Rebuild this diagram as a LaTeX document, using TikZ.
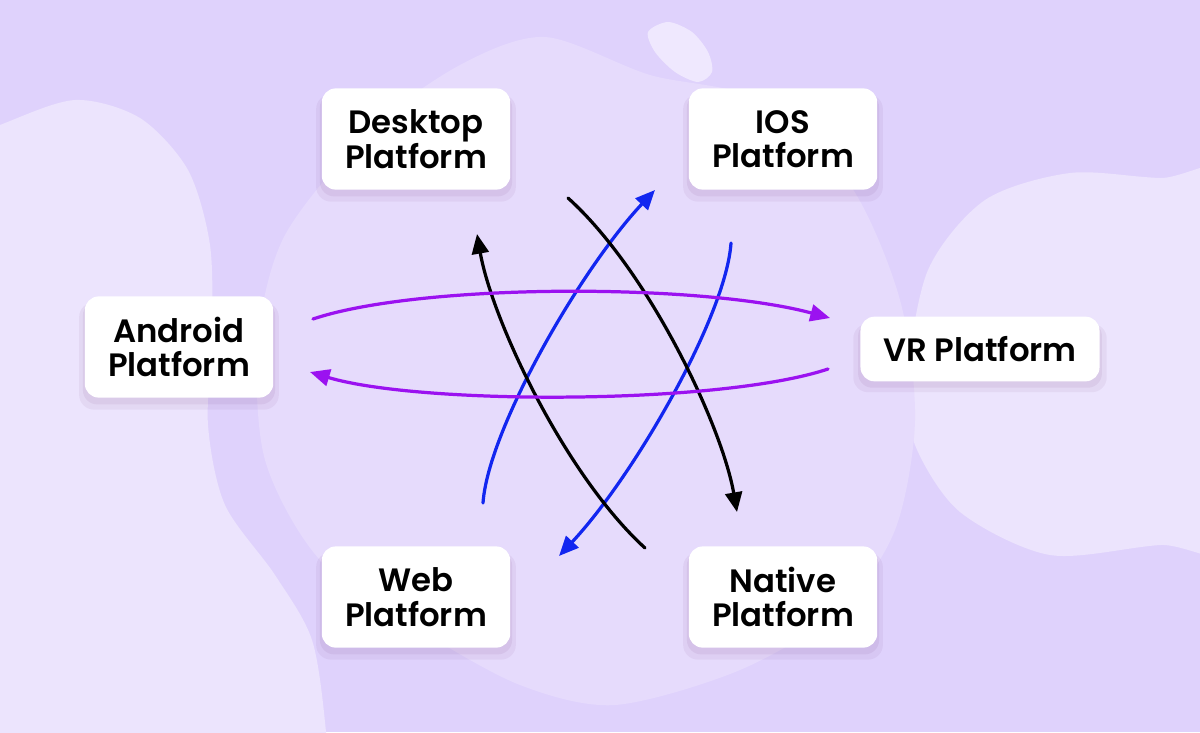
\documentclass[tikz,border=0pt]{standalone}
\usepackage{fontspec}
\setmainfont{Poppins}[UprightFont={* Medium},BoldFont={* SemiBold}]
\usetikzlibrary{arrows.meta,shadows}
\definecolor{bgcol}{RGB}{223,210,252}
\definecolor{blobside}{RGB}{236,228,253}
\definecolor{blobmid}{RGB}{230,219,252}
\definecolor{blobdot}{RGB}{239,232,254}
\definecolor{arrpurple}{RGB}{155,18,240}
\definecolor{arrblue}{RGB}{18,38,240}

\begin{document}
\begin{tikzpicture}[x=0.025cm,y=-0.025cm,
  platbox/.style={fill=white,rounded corners=10pt,align=center,inner sep=2pt,
    font=\fontsize{23}{24.5}\selectfont\bfseries,minimum width=134pt,minimum height=72pt,
    general shadow={shadow xshift=0pt,shadow yshift=-6pt,shadow scale=1.06,opacity=0.05,fill=violet!60!black},
    general shadow={shadow xshift=0pt,shadow yshift=-4pt,shadow scale=1.02,opacity=0.06,fill=violet!60!black}},
  swing/.style={line width=2.3pt,line cap=round,-{Triangle[length=14pt,width=12pt]}}]
  \fill[bgcol] (0,0) rectangle (1200,732);
  \useasboundingbox (0,0) rectangle (1200,732);
  \fill[blobside] plot[smooth cycle] coordinates {(-80,160) (0,125) (75,100) (140,118) (188,170) (210,245) (212,335) (208,425) (225,505) (275,575) (312,640) (326,732) (330,820) (-80,820)};
  \fill[blobside] plot[smooth cycle] coordinates {(907,380) (928,270) (985,200) (1070,173) (1160,178) (1280,180) (1280,540) (1160,545) (1050,555) (960,512) (915,445)};
  \fill[blobmid] plot[smooth cycle] coordinates {(545,37) (650,75) (760,100) (850,185) (900,300) (915,420) (895,530) (840,610) (740,670) (615,705) (520,685) (420,630) (320,560) (265,460) (258,340) (285,235) (370,130) (460,65)};
  \fill[blobdot] plot[smooth cycle] coordinates {(648,32) (668,22) (692,32) (708,52) (712,72) (698,82) (675,72) (655,52)};

  \node[platbox] (desk) at (416,139) {Desktop\\Platform};
  \node[platbox] (ios) at (783,139) {IOS\\Platform};
  \node[platbox] (andr) at (179,347) {Android\\Platform};
  \node[platbox,minimum width=170pt,minimum height=46pt] (vr) at (980,349) {VR Platform};
  \node[platbox] (web) at (416,597) {Web\\Platform};
  \node[platbox] (nat) at (783,597) {Native\\Platform};

  \coordinate (ptopA) at (313,319);
  \coordinate (ptopB) at (830,318);
  \coordinate (pbotA) at (828,369);
  \coordinate (pbotB) at (310,372);
  \coordinate (kupA) at (645,548);
  \coordinate (kupB) at (477,234);
  \coordinate (kdnA) at (568,198);
  \coordinate (kdnB) at (737,512);
  \coordinate (bupA) at (483,503);
  \coordinate (bupB) at (655,190);
  \coordinate (bdnA) at (731,243);
  \coordinate (bdnB) at (559,556);

  \draw[swing,arrblue] (bupA) .. controls (488,430) and (580,270) .. (bupB);
  \draw[swing,arrblue] (bdnA) .. controls (726,316) and (634,476) .. (bdnB);
  \draw[swing,black] (kupA) .. controls (565,475) and (492,320) .. (kupB);
  \draw[swing,black] (kdnA) .. controls (649,271) and (722,426) .. (kdnB);
  \draw[swing,arrpurple] (ptopA) .. controls (420,283) and (700,283) .. (ptopB);
  \draw[swing,arrpurple] (pbotA) .. controls (720,405) and (420,405) .. (pbotB);
\end{tikzpicture}
\end{document}
